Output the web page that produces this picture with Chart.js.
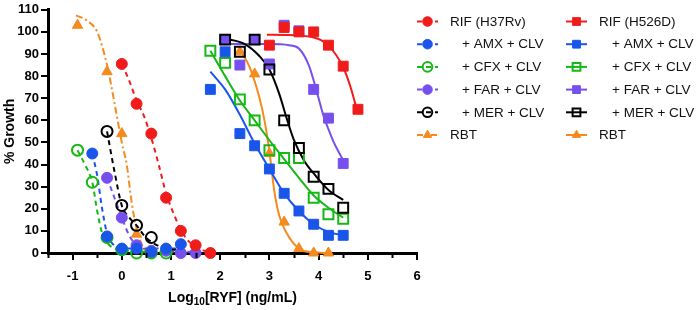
<!DOCTYPE html>
<html>
<head>
<meta charset="utf-8">
<script src="https://cdn.jsdelivr.net/npm/chart.js@4.4.1/dist/chart.umd.min.js"></script>
<style>
  html, body { margin: 0; padding: 0; background: #fff; }
</style>
</head>
<body>
<canvas id="growth" width="697" height="310"></canvas>
<script>
// log10 dose of RYF (ng/mL)
const doseH37Rv = [-0.9, -0.6, -0.3, 0, 0.3, 0.6, 0.9, 1.2, 1.5, 1.8];
const doseH526D = [1.8, 2.1, 2.4, 2.7, 3.0, 3.3, 3.6, 3.9, 4.2, 4.5, 4.8];

// % growth, H37Rv (circles)
const rifH37Rv = [null, null, null, 85.5, 67.5, 54, 25, 10, 3.5, 0];
const amxH37Rv = [null, 45, 7.5, 2, 2, 0.5, 2, 4, null, null];
const cfxH37Rv = [46.5, 32, 7, 1.5, 0, 0, 0, null, null, null];
const farH37Rv = [null, null, 34, 16, 3.5, 1, 1, 0, 0, null];
const merH37Rv = [null, null, 55, 21.5, 12.5, 7, null, null, null, null];
const rbtH37Rv = [103, null, 82, 54, 8.5, null, null, null, null, null];

// % growth, H526D (squares)
const rifH526D = [null, null, null, null, 94, 102, 100, 100, 94, 84.5, 65];
const amxH526D = [74, 91, 54, 48.5, 38, 27, 19, 13, 8, 8, null];
const cfxH526D = [91.5, 86, 69.5, 60, 46.5, 43, 43, 25, 17.5, 15.5, null];
const farH526D = [null, 96.5, 85, 96.5, 85.5, 103, 100.5, 74, 61, 40.5, null];
const merH526D = [null, 96.5, 91, 96.5, 83, 60, 47.5, 34.5, 29, 20.5, null];
const rbtH526D = [null, null, 91, 81, 45, 14, 2, 0, 0, null, null];

// fitted curves
const rifH37RvFitX = [0, 0.15, 0.3, 0.45, 0.6, 0.75, 0.9, 1.05, 1.2, 1.35, 1.5, 1.65, 1.8];
const rifH37RvFitY = [85.5, 78, 69, 62, 52, 40, 27, 18, 10.5, 5.5, 3, 1.2, 0.5];
const amxH37RvFitX = [-0.6, -0.5, -0.4, -0.3, -0.2, -0.05, 0.2, 0.6, 1.2];
const amxH37RvFitY = [45, 35, 20, 9, 4.5, 2.7, 2, 2, 2];
const cfxH37RvFitX = [-0.9, -0.75, -0.6, -0.5, -0.4, -0.25, -0.1, 0, 0.3, 0.9];
const cfxH37RvFitY = [46.5, 40, 32, 19, 9, 3.5, 1.8, 1.3, 0.6, 0.5];
const farH37RvFitX = [-0.3, -0.15, 0, 0.15, 0.3, 0.5, 0.9, 1.5];
const farH37RvFitY = [34, 25, 16, 8, 3.5, 1.5, 0.7, 0.5];
const merH37RvFitX = [-0.3, -0.15, 0, 0.15, 0.3, 0.45, 0.6, 0.9, 1.2];
const merH37RvFitY = [55, 37, 21.5, 16, 12.5, 8, 5, 2, 1.3];
const rbtH37RvFitX = [-0.93, -0.7, -0.5, -0.3, -0.15, 0, 0.1, 0.2, 0.3, 0.45, 0.6];
const rbtH37RvFitY = [107.5, 105, 100, 85, 68, 50, 40, 23, 11, 2, 0.3];

const rifH526DFitX = [2.95, 3.3, 3.6, 3.9, 4.05, 4.2, 4.35, 4.5, 4.65, 4.8];
const rifH526DFitY = [98.7, 98.6, 98.4, 97.5, 96.3, 93.8, 89.8, 84, 75, 63];
const amxH526DFitX = [1.8, 2.1, 2.4, 2.7, 3.0, 3.3, 3.6, 3.9, 4.2, 4.5];
const amxH526DFitY = [82, 74, 62.5, 49.5, 38, 27, 19, 13, 9.5, 8];
const cfxH526DFitX = [1.8, 2.1, 2.4, 2.7, 3.0, 3.3, 3.6, 3.9, 4.2, 4.5];
const cfxH526DFitY = [91.5, 80, 69, 60, 51, 42.5, 34, 26, 20.5, 16];
const farH526DFitX = [2.1, 3.0, 3.4, 3.6, 3.8, 3.9, 4.0, 4.1, 4.2, 4.3, 4.4, 4.5];
const farH526DFitY = [94.5, 94.5, 94, 92.5, 85, 78, 70, 62, 56, 50.5, 46, 42];
const merH526DFitX = [2.1, 2.5, 2.8, 3.0, 3.2, 3.35, 3.5, 3.7, 3.9, 4.2, 4.5];
const merH526DFitY = [97, 94.5, 89, 83, 72, 61, 51, 42, 36, 28.5, 24];
const rbtH526DFitX = [2.4, 2.6, 2.8, 2.9, 3.0, 3.1, 3.2, 3.35, 3.6, 3.9, 4.2];
const rbtH526DFitY = [92, 84, 70, 60, 46, 28, 17, 9, 2, 0.3, 0];

const legendH37Rv = ['RIF (H37Rv)', '+ AMX + CLV', '+ CFX + CLV', '+ FAR + CLV', '+ MER + CLV', 'RBT'];
const legendH526D = ['RIF (H526D)', '+ AMX + CLV', '+ CFX + CLV', '+ FAR + CLV', '+ MER + CLV', 'RBT'];

const RED = '#f01c1c', BLUE = '#1a55ea', GREEN = '#16b816', PURPLE = '#7650ee', BLACK = '#000000', ORANGE = '#f58a1f';
const FONT = 'Arial, "Liberation Sans", Helvetica, sans-serif';

function pairs(xs, ys) {
  const out = [];
  xs.forEach((x, i) => { if (ys[i] !== null) out.push({ x: x, y: ys[i] }); });
  return out;
}

// color, open marker, z (lower = drawn on top)
const looks = [
  { color: RED, open: false, z: 0 },
  { color: BLUE, open: false, z: 2 },
  { color: GREEN, open: true, z: 3 },
  { color: PURPLE, open: false, z: 5 },
  { color: BLACK, open: true, z: 1 },
  { color: ORANGE, open: false, z: 4 },
];

const groups = [
  {
    dose: doseH37Rv, shape: 'circle', radius: 5.5, dash: [5, 4], legend: legendH37Rv,
    values: [rifH37Rv, amxH37Rv, cfxH37Rv, farH37Rv, merH37Rv, rbtH37Rv],
    fitX: [rifH37RvFitX, amxH37RvFitX, cfxH37RvFitX, farH37RvFitX, merH37RvFitX, rbtH37RvFitX],
    fitY: [rifH37RvFitY, amxH37RvFitY, cfxH37RvFitY, farH37RvFitY, merH37RvFitY, rbtH37RvFitY],
  },
  {
    dose: doseH526D, shape: 'rect', radius: 7, dash: [], legend: legendH526D,
    values: [rifH526D, amxH526D, cfxH526D, farH526D, merH526D, rbtH526D],
    fitX: [rifH526DFitX, amxH526DFitX, cfxH526DFitX, farH526DFitX, merH526DFitX, rbtH526DFitX],
    fitY: [rifH526DFitY, amxH526DFitY, cfxH526DFitY, farH526DFitY, merH526DFitY, rbtH526DFitY],
  },
];

const datasets = [];
groups.forEach((g, gi) => {
  g.values.forEach((vals, i) => {
    const look = looks[i];
    const isRbt = i === 5;
    datasets.push({
      label: g.legend[i],
      data: pairs(g.dose, vals),
      showLine: false,
      pointStyle: isRbt ? 'triangle' : g.shape,
      pointRadius: isRbt ? 6 : g.radius,
      pointBorderWidth: look.open ? 2 : 1,
      borderColor: look.color,
      backgroundColor: look.open ? 'rgba(255,255,255,0)' : look.color,
      order: look.z,
      clip: false,
      legendCol: gi,
      legendRow: i,
      legendDash: isRbt && gi === 0 ? [6, 3, 2, 3] : g.dash,
    });
    datasets.push({
      label: g.legend[i] + ' fit',
      data: pairs(g.fitX[i], g.fitY[i]),
      showLine: true,
      pointRadius: 0,
      borderWidth: 2,
      borderColor: look.color,
      borderDash: isRbt && gi === 0 ? [7, 3, 2, 3] : g.dash,
      cubicInterpolationMode: 'monotone',
      fill: false,
      order: 10 + look.z,
      clip: false,
    });
  });
});

const overlay = {
  id: 'overlay',
  afterDraw(chart) {
    const ctx = chart.ctx;
    const area = chart.chartArea;
    const xs = chart.scales.x;
    ctx.save();

    // short minor ticks at half units
    ctx.strokeStyle = '#000';
    ctx.lineWidth = 2;
    xs.ticks.forEach(t => {
      if (Number.isInteger(t.value)) return;
      const px = Math.round(xs.getPixelForValue(t.value)) + 0.5;
      ctx.beginPath();
      ctx.moveTo(px, area.bottom);
      ctx.lineTo(px, area.bottom + 5);
      ctx.stroke();
    });

    // x title with subscript
    ctx.fillStyle = '#000';
    ctx.textBaseline = 'middle';
    const y = 298;
    const parts = [['Log', 'bold 14px ' + FONT, 0], ['10', 'bold 10px ' + FONT, 4], ['[RYF] (ng/mL)', 'bold 14px ' + FONT, 0]];
    let w = 0;
    parts.forEach(p => { ctx.font = p[1]; w += ctx.measureText(p[0]).width; });
    let x = (area.left + area.right) / 2 - w / 2;
    ctx.textAlign = 'left';
    parts.forEach(p => { ctx.font = p[1]; ctx.fillText(p[0], x, y + p[2]); x += ctx.measureText(p[0]).width; });

    // legend, two columns
    const cols = [{ line: 417, text: 450, indent: 462 }, { line: 566, text: 599, indent: 612 }];
    chart.data.datasets.forEach(ds => {
      if (ds.legendCol === undefined) return;
      const c = cols[ds.legendCol];
      const ly = 21.5 + ds.legendRow * 22.7;
      ctx.strokeStyle = ds.borderColor;
      ctx.lineWidth = 2;
      ctx.setLineDash(ds.legendDash);
      ctx.beginPath();
      ctx.moveTo(c.line, ly);
      ctx.lineTo(c.line + 21, ly);
      ctx.stroke();
      ctx.setLineDash([]);
      ctx.fillStyle = ds.backgroundColor;
      ctx.lineWidth = ds.pointBorderWidth;
      Chart.helpers.drawPoint(ctx, {
        pointStyle: ds.pointStyle,
        radius: ds.pointStyle === 'rect' ? 5.5 : 4.8,
        rotation: 0,
        borderWidth: ds.pointBorderWidth,
      }, c.line + 10.5, ly);
      ctx.fillStyle = '#111';
      ctx.font = '13.5px ' + FONT;
      const indented = ds.legendRow > 0 && ds.legendRow < 5;
      ctx.fillText(ds.label, indented ? c.indent : c.text, ly + 0.5);
    });
    ctx.restore();
  }
};

new Chart(document.getElementById('growth'), {
  type: 'scatter',
  data: { datasets: datasets },
  options: {
    responsive: false,
    animation: false,
    layout: { padding: { left: 0, right: 280, top: 7, bottom: 0 } },
    plugins: {
      legend: { display: false },
      tooltip: { enabled: false },
    },
    scales: {
      x: {
        type: 'linear',
        min: -1.5,
        max: 6,
        afterFit: s => { s.height = 57; },
        ticks: {
          stepSize: 0.5,
          autoSkip: false,
          maxRotation: 0,
          padding: 9,
          color: '#000',
          font: { family: FONT, size: 13, weight: 'bold' },
          callback: v => Number.isInteger(v) ? String(v) : '',
        },
        grid: {
          drawOnChartArea: false,
          color: c => (c.tick && !Number.isInteger(c.tick.value)) ? 'rgba(0,0,0,0)' : '#000',
          lineWidth: 2,
          tickLength: 7,
        },
        border: { color: '#000', width: 3 },
      },
      y: {
        min: 0,
        max: 110,
        afterFit: s => { s.width = 48; },
        ticks: {
          stepSize: 10,
          padding: 2,
          color: '#000',
          font: { family: FONT, size: 13, weight: 'bold' },
        },
        grid: { drawOnChartArea: false, color: '#000', lineWidth: 2, tickLength: 7 },
        border: { color: '#000', width: 3 },
        title: {
          display: true,
          text: '% Growth',
          color: '#000',
          font: { family: FONT, size: 14, weight: 'bold' },
          padding: { top: 2, bottom: 0 },
        },
      },
    },
  },
  plugins: [overlay],
});
</script>
</body>
</html>
